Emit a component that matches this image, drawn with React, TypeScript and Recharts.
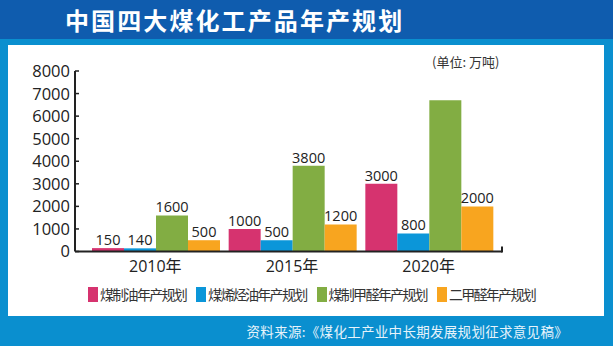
import React from 'react';
import { BarChart, Bar, XAxis, YAxis, LabelList, usePlotArea } from 'recharts';

const years = ['2010年', '2015年', '2020年'];
const coalOil = [150, 1000, 3000];
const coalOlefin = [140, 500, 800];
const coalMethanol = [1600, 3800, 6700];
const methanolLabels = ['1600', '3800', ''];
const dimethylEther = [500, 1200, 2000];
const yTicks = [0, 1000, 2000, 3000, 4000, 5000, 6000, 7000, 8000];

const SERIES = [
  { key: 'oil', name: '煤制油年产规划', color: '#d6336f' },
  { key: 'olefin', name: '煤烯烃油年产规划', color: '#0b96d9' },
  { key: 'methanol', name: '煤制甲醛年产规划', color: '#82ad43' },
  { key: 'dme', name: '二甲醛年产规划', color: '#f8a51f' },
];

const data = years.map((year, i) => ({
  year,
  oil: coalOil[i],
  olefin: coalOlefin[i],
  methanol: coalMethanol[i],
  methanolLabel: methanolLabels[i],
  dme: dimethylEther[i],
}));

const SANS = '"Open Sans", "Noto Sans CJK SC", sans-serif';
const CJK = '"Noto Sans CJK SC", sans-serif';

// y tick: label left of the axis, short tick pointing into the plot
function YTick(props: any) {
  const { x, y, payload } = props;
  return (
    <g>
      <line x1={x + 5} x2={x + 9} y1={y} y2={y} stroke="#222" strokeWidth={1.5} />
      <text x={x} y={y} dy="0.36em" textAnchor="end" fontSize={16.5} fontFamily={SANS} fill="#222">
        {payload.value}
      </text>
    </g>
  );
}

// small upward tick closing the x axis on the right
function AxisEndTick() {
  const area = usePlotArea();
  if (!area) return null;
  const x = area.x + area.width;
  const y = area.y + area.height;
  return <line x1={x} x2={x} y1={y + 1} y2={y - 5} stroke="#222" strokeWidth={2} />;
}

export default function App() {
  return (
    <div style={{ position: 'absolute', left: 0, top: 0, width: 613, height: 346, background: '#0a8fcf', overflow: 'hidden' }}>
      <div style={{ position: 'absolute', left: 0, top: 0, width: 613, height: 39, background: '#0f5cae' }} />
      <div
        style={{
          position: 'absolute', left: 65, top: 4, fontFamily: CJK, fontWeight: 700,
          fontSize: 24, letterSpacing: 2.1, color: '#fff', lineHeight: '32px', whiteSpace: 'nowrap',
        }}
      >
        中国四大煤化工产品年产规划
      </div>
      <div style={{ position: 'absolute', left: 8, top: 45, width: 596, height: 271, background: '#fff' }} />
      <div
        style={{
          position: 'absolute', left: 432, top: 53, fontFamily: CJK, fontSize: 13,
          color: '#333', lineHeight: '18px', whiteSpace: 'nowrap',
        }}
      >
        (单位: 万吨)
      </div>

      <div style={{ position: 'absolute', left: 0, top: 0 }}>
        <BarChart
          width={613}
          height={346}
          data={data}
          margin={{ top: 71, right: 111, left: 15, bottom: 64.5 }}
          barCategoryGap={5}
          barGap={0}
        >
          <XAxis
            dataKey="year"
            height={30}
            padding={{ left: 12, right: 5 }}
            tickLine={false}
            tickSize={0}
            tickMargin={9}
            axisLine={{ stroke: '#222', strokeWidth: 2 }}
            tick={{ fontSize: 16, fontFamily: SANS, fill: '#222' }}
          />
          <YAxis
            width={60}
            domain={[0, 8000]}
            ticks={yTicks}
            interval={0}
            tickLine={false}
            tickSize={0}
            tickMargin={5}
            axisLine={{ stroke: '#222', strokeWidth: 2 }}
            tick={<YTick />}
          />
          <Bar dataKey="oil" fill={SERIES[0].color} isAnimationActive={false}>
            <LabelList dataKey="oil" position="top" offset={3} fontSize={14.5} fontFamily={SANS} fill="#222" />
          </Bar>
          <Bar dataKey="olefin" fill={SERIES[1].color} isAnimationActive={false}>
            <LabelList dataKey="olefin" position="top" offset={3} fontSize={14.5} fontFamily={SANS} fill="#222" />
          </Bar>
          <Bar dataKey="methanol" fill={SERIES[2].color} isAnimationActive={false}>
            <LabelList dataKey="methanolLabel" position="top" offset={3} fontSize={14.5} fontFamily={SANS} fill="#222" />
          </Bar>
          <Bar dataKey="dme" fill={SERIES[3].color} isAnimationActive={false}>
            <LabelList dataKey="dme" position="top" offset={3} fontSize={14.5} fontFamily={SANS} fill="#222" />
          </Bar>
          <AxisEndTick />
        </BarChart>
      </div>

      <div style={{ position: 'absolute', left: 88, top: 287, display: 'flex', alignItems: 'center' }}>
        {SERIES.map((s) => (
          <div key={s.key} style={{ display: 'flex', alignItems: 'center', marginRight: 10 }}>
            <div style={{ width: 10, height: 15, background: s.color, marginRight: 2 }} />
            <span style={{ fontFamily: CJK, fontSize: 14, letterSpacing: -1.7, color: '#333', lineHeight: '15px', whiteSpace: 'nowrap' }}>
              {s.name}
            </span>
          </div>
        ))}
      </div>

      <div
        style={{
          position: 'absolute', right: 45, top: 322, fontFamily: CJK, fontSize: 13.5,
          letterSpacing: 0.3, color: '#e6f3fb', lineHeight: '18px', whiteSpace: 'nowrap',
        }}
      >
        资料来源:《煤化工产业中长期发展规划征求意见稿》
      </div>
    </div>
  );
}
